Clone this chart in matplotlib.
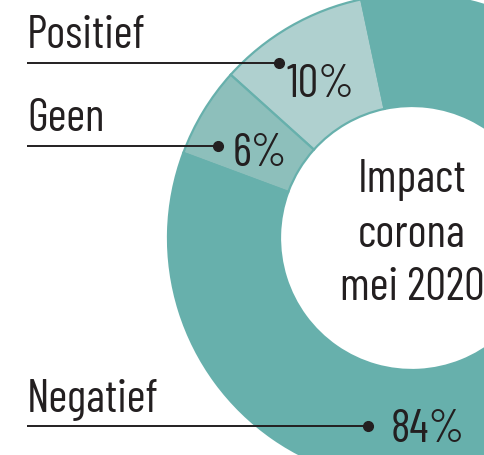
import matplotlib
matplotlib.use("Agg")
import matplotlib.pyplot as plt

# Data
categories = ["Positief", "Geen", "Negatief"]
values = [10, 6, 84]
pct_labels = ["10%", "6%", "84%"]
center_title = "Impact\ncorona\nmei 2020"

colors = ["#AFD0CF", "#8DBFBB", "#67B0AC"]
edge = "#67B0AC"
ink = "#231F20"
FONT = ["Barlow Condensed", "DejaVu Sans"]
WEIGHT = 400

W, H = 485, 456
fig = plt.figure(figsize=(W / 100, H / 100), dpi=100)
ax = fig.add_axes([0, 0, 1, 1])

cx, cy = 412, H - 239
R_out, R_in = 244, 132
ax.pie(values, colors=colors, startangle=102, counterclock=True,
       center=(cx, cy), radius=R_out,
       wedgeprops=dict(width=R_out - R_in, edgecolor=edge, linewidth=1.6))
ax.set_xlim(0, W)
ax.set_ylim(0, H)
ax.set_aspect("equal")
ax.axis("off")

fs = 33
# label layout: (label x, label baseline y, line y, dot x, pct x, pct baseline y)
layout = [
    (27, 48, 64, 279, 287, 97),
    (27, 131, 147, 218, 233, 166),
    (27, 412, 427, 368, 391, 442),
]
for cat, pct, (lx, lby, ly, dx, px, pby) in zip(categories, pct_labels, layout):
    ax.text(lx, H - lby, cat, fontsize=fs, family=FONT, weight=WEIGHT,
            color=ink, ha="left", va="baseline")
    ax.plot([27, dx], [H - ly, H - ly], color=ink, lw=1.4,
            solid_capstyle="butt")
    ax.plot([dx], [H - ly], "o", color=ink, ms=7)
    ax.text(px, H - pby, pct, fontsize=fs, family=FONT, weight=WEIGHT,
            color=ink, ha="left", va="baseline")

lines = center_title.split("\n")
baselines = [192, 247, 300]
for t, b in zip(lines, baselines):
    ax.text(412, H - b, t, fontsize=fs, family=FONT, weight=WEIGHT,
            color=ink, ha="center", va="baseline")

fig.savefig("out.png", dpi=100)
